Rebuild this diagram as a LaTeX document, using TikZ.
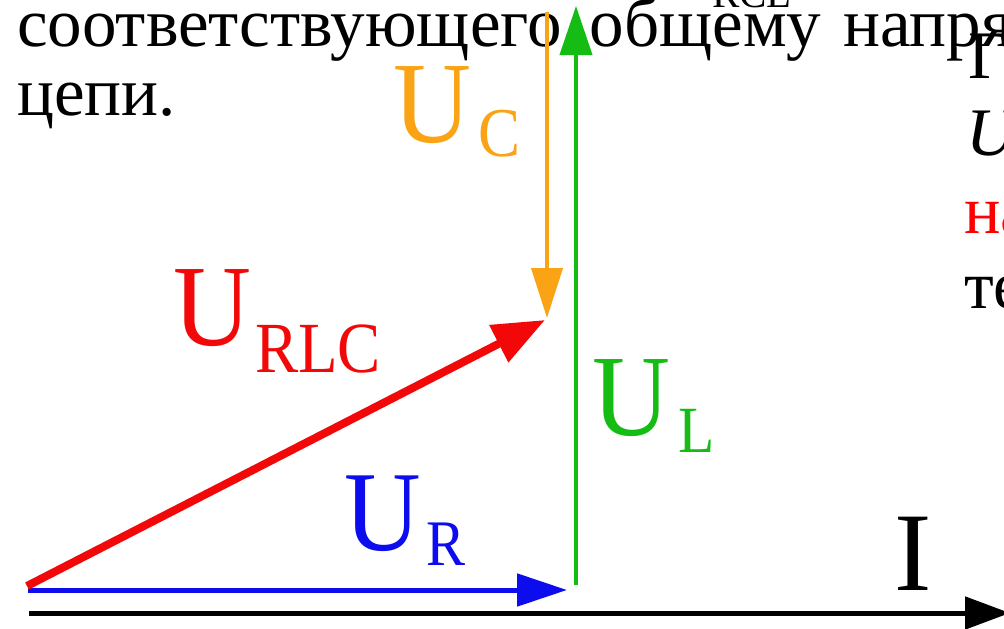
\documentclass[tikz,border=0pt]{standalone}
\usepackage{fontspec}
\setmainfont{Liberation Serif}
\usetikzlibrary{arrows.meta}
\definecolor{cOrange}{RGB}{250,163,20}
\definecolor{cGreen}{RGB}{20,188,20}
\definecolor{cRed}{RGB}{242,8,8}
\definecolor{cBlue}{RGB}{12,12,238}
\newcommand\fsz[1]{\fontsize{#1}{#1}\selectfont}
% #1 size of U, #2 size of subscript, #3 subscript text, #4 gap, #5 drop
\newcommand\vlabel[5]{\scalebox{0.93}[1]{\fsz{#1}U}\hspace{#4pt}\raisebox{-#5pt}{\scalebox{0.9}[1]{\fsz{#2}#3}}}
\begin{document}
\begin{tikzpicture}[x=1pt,y=-1pt,
  bodytext/.style={anchor=base west,inner sep=0pt,font=\fsz{69}},
  sidetext/.style={anchor=base west,inner sep=0pt,font=\fsz{68}},
  lbl/.style={anchor=base west,inner sep=0pt},
  vec/.style={line cap=butt}]
\useasboundingbox[fill=white] (0,0) rectangle (1004,629);
% background text
\node[bodytext] (t1) at (17,46) {соответствующего\hspace{28pt}общему\hspace{22pt}напря};
\node[bodytext] (t2) at (17,115) {цепи.};
\node[anchor=base west,inner sep=0pt,font=\fsz{41}] (rcl) at (712,7) {RCL};
% points
\coordinate (O) at (28,590);
\coordinate (OR) at (27,586);
\coordinate (R) at (567,590);
\coordinate (Ls) at (576,585);
\coordinate (Lt) at (576,6);
\coordinate (Cs) at (547,12);
\coordinate (Ct) at (547,318);
\coordinate (Z) at (545,320);
\coordinate (A0) at (29,613);
\coordinate (A1) at (1010,613);
% vectors
\draw[vec,line width=5pt,-{Triangle[length=45pt,width=32pt]}] (A0) -- (A1);
\draw[vec,cBlue,line width=5pt,-{Triangle[length=50pt,width=32pt]}] (O) -- (R);
\draw[vec,cGreen,line width=4pt,-{Triangle[length=49pt,width=32pt]}] (Ls) -- (Lt);
\draw[vec,cOrange,line width=4pt,-{Triangle[length=50pt,width=31pt]}] (Cs) -- (Ct);
\draw[vec,cRed,line width=8pt,-{Triangle[length=52pt,width=40pt]}] (OR) -- (Z);
% labels
\node[lbl,text=cOrange] (uc) at (393,142) {\vlabel{116}{70}{C}{7}{14}};
\node[lbl,text=cRed] (urlc) at (173,345) {\vlabel{116}{72}{RLC}{4}{27}};
\node[lbl,text=cGreen] (ul) at (592,435) {\vlabel{116}{66}{L}{8}{17}};
\node[lbl,text=cBlue] (ur) at (344,550) {\vlabel{114}{65}{R}{6}{15}};
\node[lbl,font=\fsz{112}] (I) at (894,590) {I};
% right column text
\node[sidetext] (r1) at (968,78) {Га};
\node[sidetext] (r2) at (966,155) {\itshape U};
\node[sidetext,text=red] (r3) at (964,233) {на};
\node[sidetext] (r4) at (964,308) {те};
\end{tikzpicture}
\end{document}
